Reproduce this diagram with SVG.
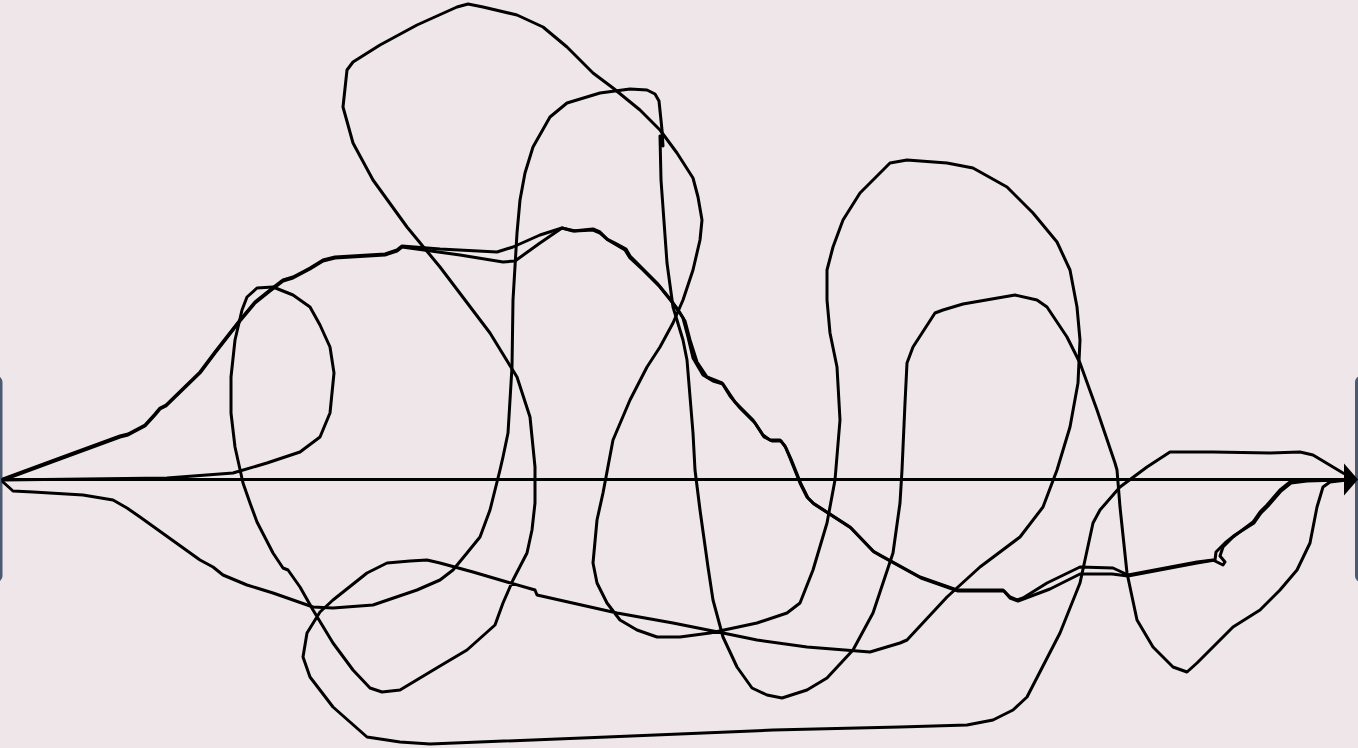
<svg xmlns="http://www.w3.org/2000/svg" width="1358" height="748" viewBox="0 0 1358 748">
<style>
.bg{fill:#EEE6E9}
.node{fill:#4B5A71}
.edge{fill:none;stroke:#000;stroke-width:3;stroke-linejoin:round;stroke-linecap:round}
.thin{stroke-width:3}
</style>
<defs>
<marker id="arrow" markerWidth="16" markerHeight="34" refX="0" refY="17" orient="auto" markerUnits="userSpaceOnUse">
<path d="M0,1 L14,17 L0,33 z" fill="#000"/>
</marker>
</defs>
<rect class="bg" x="0" y="0" width="1358" height="748"/>
<g id="node-left"><rect class="node" x="-20" y="376" width="22.5" height="206" rx="6"/></g>
<g id="node-right"><rect class="node" x="1355" y="376" width="30" height="206" rx="6"/></g>
<g id="connectors">
<path id="edge-straight" class="edge" d="M3 479.5 L1344 479.5" marker-end="url(#arrow)"/>
<path id="edge-a" class="edge" d="M3 479 L60 458 L120 436 L128 434 L145 425 L155 414 L160 408 L166 405 L200 372 L215 352 L240 320 L255 302 L270 290 L283 280 L293 277 L310 268 L323 260 L335 257 L385 254 L397 250 L402 246 L440 249 L497 252 L513 247 L540 235 L562 228 L573 231 L593 229 L600 232 L607 239 L615 243 L626 249 L630 256 L640 266 L657 283 L670 299 L678 310 L683 318 L687 333 L693 358 L703 375 L713 381 L723 384 L727 390 L735 402 L753 420 L763 435 L770 440 L780 440 L785 446 L790 458 L800 483 L807 497 L813 503 L850 527 L873 551 L880 555 L920 577 L957 590 L1003 590 L1010 597 L1017 600 L1023 598 L1047 583 L1080 567 L1113 568 L1128 575 L1197 562 L1213 560 L1223 565 L1225 562 L1220 556 L1223 547 L1233 537 L1253 522 L1260 512 L1267 505 L1280 490 L1290 482 L1307 480 L1340 480"/>
<path id="edge-a2" class="edge" d="M3 480 L60 459 L120 437 L128 435 L145 426 L155 415 L160 409 L166 406 L200 373 L215 353 L240 321 L255 303 L270 291 L283 281 L293 278 L310 269 L323 261 L335 258 L385 255 L397 251 L402 247 L460 255 L503 262 L515 261 L540 243 L562 228 L575 231 L593 230 L600 233 L608 240 L625 250 L630 258 L643 270 L660 287 L672 302 L680 313 L685 321 L690 340 L697 362 L707 377 L722 383 L730 396 L740 408 L755 423 L764 437 L772 441 L781 441 L786 448 L791 459 L801 484 L808 498 L814 504 L851 528 L874 552 L881 556 L921 578 L958 591 L1004 591 L1010 598 L1018 601 L1050 589 L1080 574 L1112 574 L1128 576 L1197 563 L1215 560 L1216 552 L1225 543 L1235 535 L1254 523 L1261 513 L1268 506 L1281 491 L1291 483 L1307 481 L1340 480"/>
<path id="edge-b" class="edge thin" d="M3 482 L13 491 L33 492 L83 495 L113 500 L127 508 L140 517 L200 560 L213 567 L223 575 L247 585 L273 593 L313 607 L333 608 L373 605 L417 590 L440 580 L453 570 L467 553 L480 537 L490 510 L500 470 L503 457 L508 433 L512 367 L513 300 L517 233 L520 200 L525 173 L533 147 L550 117 L567 103 L600 93 L630 89 L647 90 L655 94 L659 101 L662 130 L663 146 L660 136 L661 180 L667 263 L673 307 L683 340 L687 360 L693 433 L695 470 L700 510 L708 567 L713 600 L723 637 L737 667 L752 688 L767 695 L782 698 L807 690 L827 678 L853 650 L873 613 L893 553 L900 503 L902 470 L905 403 L907 363 L913 347 L935 313 L943 310 L963 304 L1015 295 L1037 300 L1047 307 L1067 337 L1080 363 L1097 410 L1115 463 L1117 470 L1120 507 L1127 573 L1137 620 L1153 647 L1173 667 L1187 672 L1197 663 L1220 640 L1233 627 L1260 610 L1280 590 L1297 570 L1310 543 L1317 507 L1323 487 L1330 482 L1347 480"/>
<path id="edge-c" class="edge thin" d="M3 480 L167 478 L233 473 L267 463 L300 452 L320 437 L330 413 L334 373 L330 347 L320 325 L310 307 L293 295 L273 287 L257 288 L247 297 L242 310 L235 340 L231 377 L231 413 L235 447 L243 483 L250 503 L257 522 L273 553 L283 568 L288 570 L300 587 L313 610 L333 643 L353 670 L370 688 L382 692 L400 690 L420 678 L440 666 L467 650 L495 625 L503 603 L513 580 L527 553 L532 530 L535 503 L535 467 L530 417 L517 377 L490 333 L440 267 L407 227 L373 180 L353 143 L343 107 L347 70 L353 62 L380 45 L417 25 L457 7 L468 4 L483 7 L517 15 L543 27 L567 47 L593 73 L613 88 L640 110 L660 130 L677 153 L693 178 L698 197 L702 220 L700 240 L693 270 L683 300 L673 323 L660 347 L647 367 L630 400 L613 440 L603 493 L597 520 L593 563 L597 583 L607 603 L620 620 L637 630 L657 637 L680 637 L710 633 L757 623 L787 613 L800 603 L813 570 L827 523 L835 480 L840 420 L837 367 L830 333 L827 300 L827 270 L833 247 L843 220 L860 193 L890 163 L907 160 L947 163 L973 168 L1007 187 L1033 213 L1057 242 L1070 270 L1077 307 L1080 340 L1078 383 L1070 427 L1057 470 L1043 507 L1020 537 L980 567 L947 597 L907 640 L900 643 L870 652 L807 647 L757 640 L723 633 L673 623 L617 613 L537 595 L535 590 L507 582 L473 572 L440 563 L427 560 L410 561 L387 563 L367 573 L333 600 L320 612 L307 633 L303 657 L310 677 L333 707 L367 737 L400 742 L430 744 L607 737 L773 730 L900 727 L967 725 L993 720 L1013 710 L1027 697 L1060 633 L1080 583 L1093 523 L1100 510 L1120 487 L1147 467 L1170 452 L1213 452 L1270 453 L1300 452 L1313 455 L1343 473 L1353 478"/>
</g>
</svg>
